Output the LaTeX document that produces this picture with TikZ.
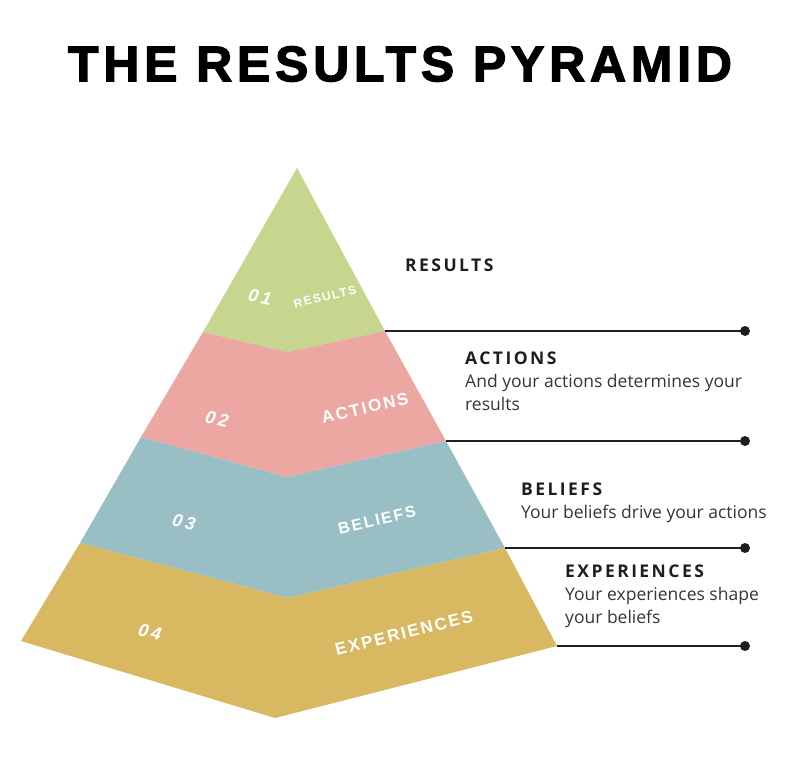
\documentclass[tikz,border=0pt]{standalone}
\usepackage{fontspec}
\setmainfont{Open Sans}
\newfontfamily\titlefont{Liberation Sans}[BoldFeatures={FakeBold=2.5},LetterSpace=9.5]
\newfontfamily\headfont{Open Sans}[LetterSpace=14]
\newfontfamily\layerfont{Liberation Sans}[LetterSpace=12]
\newfontfamily\numfont{Liberation Sans}[LetterSpace=18]
\definecolor{pyrgreen}{HTML}{C7D68F}
\definecolor{pyrpink}{HTML}{ECA7A2}
\definecolor{pyrblue}{HTML}{99BFC5}
\definecolor{pyrgold}{HTML}{D9B862}
\definecolor{inkdark}{HTML}{1E1E1E}
\tikzset{
  leader/.style={line width=2pt, inkdark},
  headtext/.style={anchor=west, inner sep=0pt, font=\headfont\bfseries\fontsize{17.5}{20}\selectfont, text=inkdark},
  desctext/.style={anchor=north west, inner sep=0pt, align=left, font=\fontsize{17.5}{23}\selectfont, text=inkdark!90},
  numlabel/.style={text=white, rotate=-13, font=\numfont\bfseries\itshape\fontsize{18}{18}\selectfont},
  layerlabel/.style={text=white, font=\layerfont\bfseries\fontsize{#1}{#1}\selectfont},
}
\begin{document}
\begin{tikzpicture}[x=1pt, y=-1pt]
	\useasboundingbox (0,0) rectangle (795,756);
	\node (title) at (400,64) {\titlefont\bfseries\fontsize{50}{54}\selectfont THE RESULTS PYRAMID};
	\coordinate (apex) at (297,168);
	\coordinate (gR) at (385,331); \coordinate (gV) at (287,352); \coordinate (gL) at (203,332);
	\coordinate (pR) at (446,441); \coordinate (pV) at (287,477); \coordinate (pL) at (141,437);
	\coordinate (bR) at (505,548); \coordinate (bV) at (288,598); \coordinate (bL) at (80,543);
	\coordinate (oR) at (557,646); \coordinate (oV) at (275,718); \coordinate (oL) at (21,641);
	\fill[pyrgreen] (apex) -- (gR) -- (gV) -- (gL) -- cycle;
	\fill[pyrpink] (gL) -- (gV) -- (gR) -- (pR) -- (pV) -- (pL) -- cycle;
	\fill[pyrblue] (pL) -- (pV) -- (pR) -- (bR) -- (bV) -- (bL) -- cycle;
	\fill[pyrgold] (bL) -- (bV) -- (bR) -- (oR) -- (oV) -- (oL) -- cycle;
	\foreach \c/\y in {g/331, p/441, b/548, o/646} {
		\coordinate (\c dot) at (745,\y);
		\draw[leader] (\c R) -- (\c dot);
		\fill[inkdark] (\c dot) circle (5);
	}
	\node[numlabel] (n1) at (260,297) {01};
	\node[numlabel] (n2) at (217,419) {02};
	\node[numlabel] (n3) at (184,522) {03};
	\node[numlabel] (n4) at (150,632) {04};
	\node[layerlabel=12, rotate=13] (l1) at (325,297) {RESULTS};
	\node[layerlabel=17, rotate=13] (l2) at (365,408) {ACTIONS};
	\node[layerlabel=16, rotate=13] (l3) at (377,520) {BELIEFS};
	\node[layerlabel=17, rotate=14] (l4) at (404,633) {EXPERIENCES};
	\node[headtext] (h1) at (405,265) {RESULTS};
	\node[headtext] (h2) at (465,358) {ACTIONS};
	\node[desctext] (d2) at (465,374) {And your actions determines your\\results};
	\node[headtext] (h3) at (521,489) {BELIEFS};
	\node[desctext] (d3) at (521,505) {Your beliefs drive your actions};
	\node[headtext] (h4) at (565,571) {EXPERIENCES};
	\node[desctext] (d4) at (565,587) {Your experiences shape\\your beliefs};
\end{tikzpicture}
\end{document}
